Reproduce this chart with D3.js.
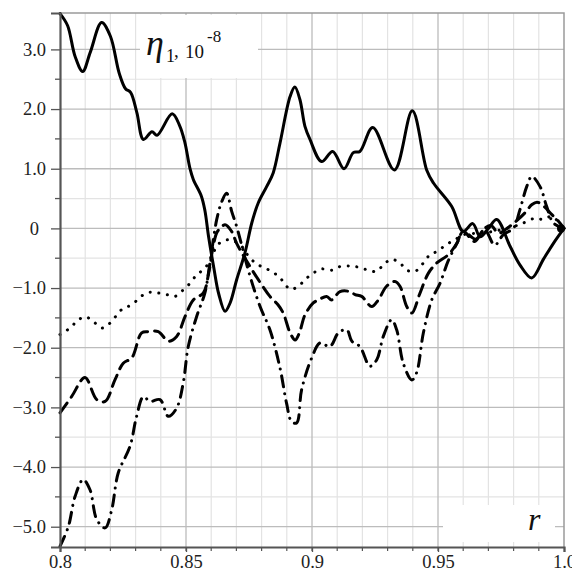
<!DOCTYPE html>
<html>
<head>
<meta charset="utf-8">
<script src="https://cdn.jsdelivr.net/npm/d3@7/dist/d3.min.js"></script>
<style>
  body { margin: 0; background: #fff; }
  svg { display: block; }
</style>
</head>
<body>
<script>
// values (r, eta in units of 1e-8)
var rSolid = [0.800, 0.803, 0.806, 0.809, 0.812, 0.8165, 0.820, 0.8235, 0.826, 0.828, 0.8305, 0.8331, 0.8365, 0.8385,
  0.8445, 0.8475, 0.8495, 0.8516, 0.8529, 0.8561, 0.8575, 0.8590, 0.8610, 0.8630, 0.8655, 0.8675, 0.8701, 0.8734,
  0.8761, 0.8787, 0.8820, 0.8846, 0.8873, 0.8913, 0.8932, 0.8952, 0.8972, 0.8992, 0.9038, 0.9082, 0.9127, 0.9164,
  0.9190, 0.9241, 0.9327, 0.9398, 0.9455, 0.9482, 0.9554, 0.9600, 0.9638, 0.9667, 0.9700, 0.9733, 0.9786, 0.9825,
  0.9872, 0.9918, 0.9958, 1.000];
var etaSolid = [3.60, 3.40, 2.88, 2.63, 2.95, 3.45, 3.22, 2.60, 2.34, 2.28, 1.94, 1.49, 1.62, 1.56,
  1.92, 1.72, 1.45, 1.00, 0.82, 0.54, 0.30, -0.15, -0.65, -1.10, -1.39, -1.25, -0.86, -0.41,
  0.09, 0.43, 0.70, 0.93, 1.43, 2.21, 2.37, 2.16, 1.71, 1.49, 1.12, 1.29, 1.00, 1.27,
  1.29, 1.69, 0.98, 1.97, 0.98, 0.76, 0.37, -0.05, 0.08, -0.14, 0.00, 0.15, -0.30, -0.61,
  -0.83, -0.52, -0.25, 0.00];

var rDashed = [0.800, 0.8046, 0.8099, 0.8146, 0.8179, 0.8218, 0.8251, 0.8285, 0.8324, 0.8350, 0.8390, 0.8430, 0.8463,
  0.8496, 0.8529, 0.8569, 0.8590, 0.8608, 0.8625, 0.8655, 0.8681, 0.8701, 0.8754, 0.8787, 0.8833, 0.8865, 0.8886,
  0.8913, 0.8933, 0.8950, 0.8972, 0.9005, 0.9025, 0.9058, 0.9078, 0.9111, 0.9151, 0.9171, 0.9197, 0.9237, 0.9263,
  0.9296, 0.9329, 0.9349, 0.9376, 0.9396, 0.9429, 0.9462, 0.9495, 0.9541, 0.9575, 0.9600, 0.9645, 0.9680, 0.9710,
  0.9740, 0.9780, 0.9810, 0.9845, 0.9873, 0.9893, 0.9920, 0.9952, 0.9978, 1.000];
var etaDashed = [-3.09, -2.82, -2.50, -2.87, -2.90, -2.54, -2.26, -2.17, -1.75, -1.73, -1.73, -1.89, -1.81,
  -1.48, -1.20, -1.08, -0.75, -0.30, -0.05, 0.06, -0.05, -0.25, -0.64, -0.86, -1.14, -1.28, -1.42,
  -1.75, -1.87, -1.75, -1.45, -1.25, -1.20, -1.14, -1.20, -1.06, -1.06, -1.11, -1.14, -1.31, -1.20,
  -0.97, -0.89, -0.97, -1.31, -1.42, -1.08, -0.75, -0.58, -0.44, -0.25, -0.05, -0.22, -0.02, 0.05,
  -0.08, 0.02, 0.12, 0.26, 0.40, 0.44, 0.37, 0.23, 0.12, 0.00];

var rDashDot = [0.800, 0.8033, 0.8060, 0.8092, 0.8119, 0.8146, 0.8179, 0.8205, 0.8231, 0.8278, 0.8304, 0.8331, 0.8357,
  0.8397, 0.8430, 0.8463, 0.8489, 0.8509, 0.8542, 0.8575, 0.8595, 0.8622, 0.8642, 0.8661, 0.8681, 0.8701, 0.8754,
  0.8794, 0.8833, 0.8873, 0.8899, 0.8919, 0.8939, 0.8959, 0.8999, 0.9032, 0.9071, 0.9105, 0.9138, 0.9158, 0.9190,
  0.9230, 0.9257, 0.9283, 0.9316, 0.9336, 0.9362, 0.9396, 0.9415, 0.9442, 0.9475, 0.9508, 0.9540, 0.9575, 0.9600,
  0.9650, 0.9685, 0.9725, 0.9760, 0.9799, 0.9825, 0.9852, 0.9872, 0.9905, 0.9931, 0.9958, 1.000];
var etaDashDot = [-5.33, -5.00, -4.49, -4.21, -4.38, -4.88, -5.02, -4.72, -4.10, -3.65, -3.15, -2.82, -2.90,
  -2.87, -3.15, -3.01, -2.59, -1.98, -1.48, -1.08, -0.58, 0.15, 0.45, 0.59, 0.29, 0.03, -0.80,
  -1.31, -1.70, -2.34, -2.93, -3.24, -3.26, -2.70, -2.17, -1.92, -1.98, -1.75, -1.70, -1.89, -1.98,
  -2.31, -2.20, -1.81, -1.53, -1.70, -2.26, -2.54, -2.42, -1.75, -1.20, -0.92, -0.55, -0.25, -0.05,
  -0.18, -0.02, -0.28, -0.10, 0.00, 0.31, 0.70, 0.87, 0.70, 0.37, 0.09, 0.00];

var rDotted = [0.800, 0.8040, 0.8066, 0.8099, 0.8132, 0.8166, 0.8198, 0.8245, 0.8284, 0.8344, 0.8384, 0.8423, 0.8456,
  0.8489, 0.8516, 0.8542, 0.8569, 0.8595, 0.8627, 0.8667, 0.8714, 0.8754, 0.8787, 0.8826, 0.8860, 0.8886, 0.8913,
  0.8946, 0.8972, 0.9005, 0.9038, 0.9078, 0.9111, 0.9151, 0.9184, 0.9223, 0.9257, 0.9283, 0.9316, 0.9349, 0.9376,
  0.9409, 0.9442, 0.9468, 0.9495, 0.9534, 0.9567, 0.9607, 0.9667, 0.9720, 0.9799, 0.9839, 0.9885, 0.9918, 0.9951, 1.000];
var etaDotted = [-1.78, -1.67, -1.56, -1.48, -1.56, -1.67, -1.59, -1.36, -1.28, -1.08, -1.08, -1.11, -1.14,
  -1.03, -0.92, -0.78, -0.69, -0.55, -0.27, -0.19, -0.27, -0.50, -0.61, -0.69, -0.78, -0.89, -1.02,
  -0.97, -0.86, -0.75, -0.68, -0.70, -0.64, -0.63, -0.65, -0.70, -0.72, -0.61, -0.52, -0.58, -0.70,
  -0.72, -0.58, -0.44, -0.39, -0.27, -0.19, -0.10, -0.08, -0.05, 0.03, 0.09, 0.17, 0.15, 0.20, 0.00];

var xTicks = [0.8, 0.85, 0.9, 0.95, 1.0];
var xTickLabels = ["0.8", "0.85", "0.9", "0.95", "1.0"];
var yTicks = [-5, -4, -3, -2, -1, 0, 1, 2, 3];
var yTickLabels = ["\u22125.0", "\u22124.0", "\u22123.0", "\u22122.0", "\u22121.0", "0", "1.0", "2.0", "3.0"];

var W = 572, H = 572;
var pL = 60, pR = 564, pT = 13, pB = 547;
var serif = "Liberation Serif, Times New Roman, serif";

var svg = d3.select("body").append("svg")
    .attr("width", W)
    .attr("height", H);

svg.append("rect").attr("width", W).attr("height", H).attr("fill", "#fff");

var x = d3.scaleLinear().domain([0.8, 1.0]).range([pL, pR]);
var y = d3.scaleLinear().domain([-5.34, 3.61]).range([pB, pT]);

// grid: minor first, then major
var xMinor = d3.range(81, 100).map(function(i) { return i / 100; }).filter(function(d, i) { return (i + 1) % 5 != 0; });
var yMinor = d3.range(-5, 4).map(function(d) { return d - 0.5; }).filter(function(d) { return d > -5.34; });
var xAllMinor = d3.range(81, 100).map(function(i) { return i / 100; });

var grid = svg.append("g");
grid.selectAll(".vminor").data(xMinor).enter().append("line")
    .attr("x1", function(d) { return x(d); }).attr("x2", function(d) { return x(d); })
    .attr("y1", pT).attr("y2", pB)
    .attr("stroke", "#e3e3e3").attr("stroke-width", 1.2);
grid.selectAll(".hminor").data(yMinor).enter().append("line")
    .attr("x1", pL).attr("x2", pR)
    .attr("y1", function(d) { return y(d); }).attr("y2", function(d) { return y(d); })
    .attr("stroke", "#e3e3e3").attr("stroke-width", 1.2);
grid.selectAll(".vmajor").data([0.85, 0.9, 0.95]).enter().append("line")
    .attr("x1", function(d) { return x(d); }).attr("x2", function(d) { return x(d); })
    .attr("y1", pT).attr("y2", pB)
    .attr("stroke", "#bcbcbc").attr("stroke-width", 1.3);
grid.selectAll(".hmajor").data(yTicks).enter().append("line")
    .attr("x1", pL).attr("x2", pR)
    .attr("y1", function(d) { return y(d); }).attr("y2", function(d) { return y(d); })
    .attr("stroke", "#bcbcbc").attr("stroke-width", 1.3);

// frame on top and right
svg.append("path")
    .attr("d", "M" + pL + "," + pT + "H" + pR + "V" + pB)
    .attr("fill", "none").attr("stroke", "#9a9a9a").attr("stroke-width", 1.5);

// white boxes behind the labels
svg.append("rect").attr("x", 140).attr("y", 15).attr("width", 118).attr("height", 63).attr("fill", "#fff");
svg.append("rect").attr("x", 443).attr("y", 505).attr("width", 112).attr("height", 37).attr("fill", "#fff");

// curves
var line = d3.line()
    .x(function(d) { return x(d[0]); })
    .y(function(d) { return y(d[1]); })
    .curve(d3.curveCatmullRom.alpha(0.5));

function series(r, eta) { return r.map(function(d, i) { return [d, eta[i]]; }); }

var curves = [
  { data: series(rDotted, etaDotted), dash: "0.1,8.6" },
  { data: series(rDashDot, etaDashDot), dash: "11,7,0.1,7" },
  { data: series(rDashed, etaDashed), dash: "12,7" },
  { data: series(rSolid, etaSolid), dash: null }
];

svg.selectAll(".curve").data(curves).enter().append("path")
    .attr("class", "curve")
    .attr("d", function(d) { return line(d.data); })
    .attr("fill", "none")
    .attr("stroke", "#000")
    .attr("stroke-width", 3)
    .attr("stroke-linecap", "round")
    .attr("stroke-linejoin", "round")
    .attr("stroke-dasharray", function(d) { return d.dash; });

svg.append("circle").attr("cx", x(1.0) - 3).attr("cy", y(0)).attr("r", 4).attr("fill", "#000");

// axes
var yAxis = svg.append("g")
    .attr("transform", "translate(" + pL + ",0)")
    .call(d3.axisLeft(y).tickValues(yTicks).tickSize(9).tickPadding(5)
      .tickFormat(function(d, i) { return yTickLabels[i]; }));
yAxis.selectAll(".tick").filter(function(d) { return d === 0; }).select("text").attr("dx", -7);
yAxis.append("g").selectAll("line").data(yMinor).enter().append("line")
    .attr("x1", -5).attr("x2", 0)
    .attr("y1", function(d) { return y(d); }).attr("y2", function(d) { return y(d); })
    .attr("stroke", "#555").attr("stroke-width", 1.3);

var xAxis = svg.append("g")
    .attr("transform", "translate(0," + pB + ")")
    .call(d3.axisBottom(x).tickValues(xTicks).tickSize(5).tickPadding(3)
      .tickFormat(function(d, i) { return xTickLabels[i]; }));
xAxis.append("g").selectAll("line").data(xAllMinor).enter().append("line")
    .attr("x1", function(d) { return x(d); }).attr("x2", function(d) { return x(d); })
    .attr("y1", 0).attr("y2", 4)
    .attr("stroke", "#555").attr("stroke-width", 1.2);

[yAxis, xAxis].forEach(function(a) {
  a.attr("font-family", serif).attr("font-size", 18.5);
  a.select(".domain").attr("stroke", "#555").attr("stroke-width", 2.2);
  a.selectAll(".tick line").attr("stroke", "#555").attr("stroke-width", 1.3);
  a.selectAll(".tick text").attr("fill", "#222");
});

// legend text: eta_1, 10^-8
var lab = svg.append("g").attr("font-family", serif).attr("fill", "#111");
lab.append("text").attr("x", 146).attr("y", 55).attr("font-size", 36).attr("font-style", "italic").text("\u03b7");
lab.append("text").attr("x", 166).attr("y", 62).attr("font-size", 18).text("1");
lab.append("text").attr("x", 174).attr("y", 57).attr("font-size", 19).text(",");
lab.append("text").attr("x", 185).attr("y", 57.5).attr("font-size", 19).text("10");
lab.append("text").attr("x", 207).attr("y", 42).attr("font-size", 17).text("-8");

lab.append("text").attr("x", 528).attr("y", 530).attr("font-size", 32).attr("font-style", "italic").text("r");
</script>
</body>
</html>
